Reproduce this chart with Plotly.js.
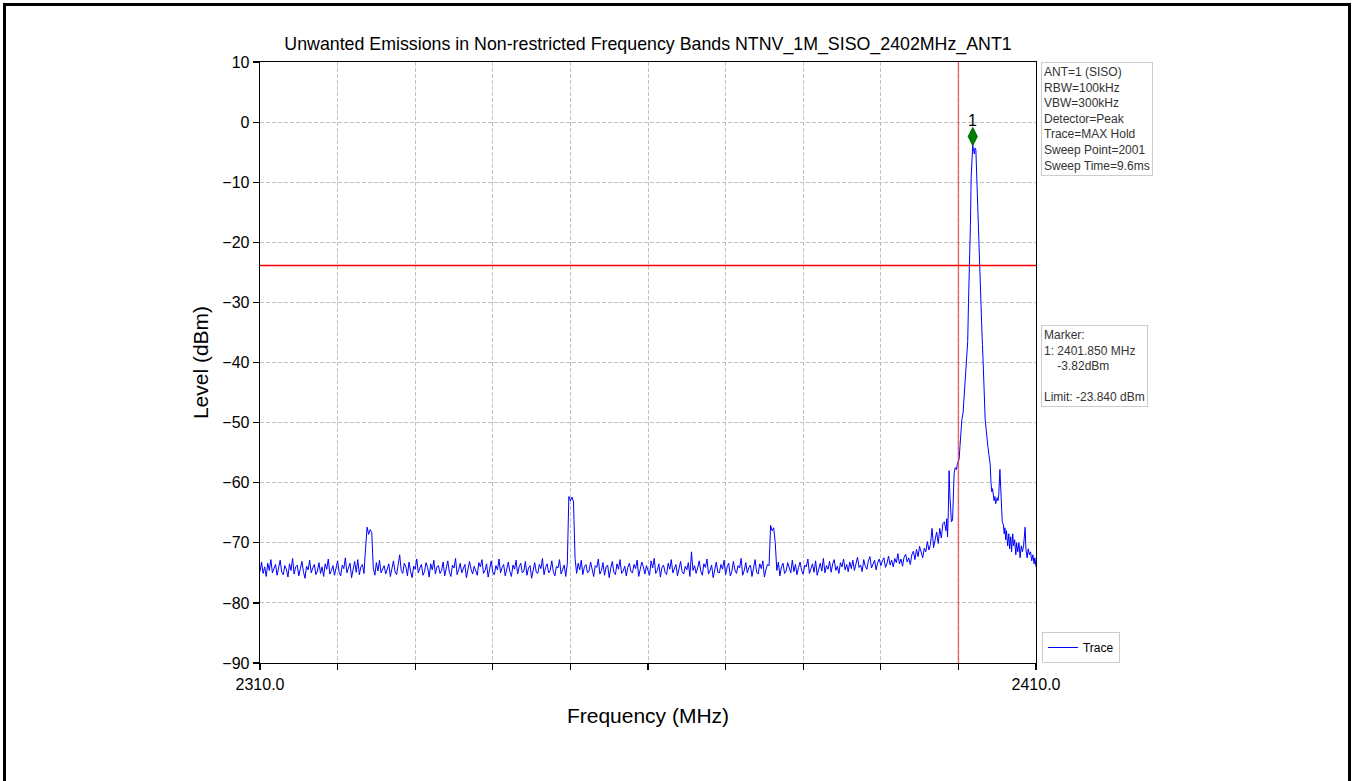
<!DOCTYPE html>
<html>
<head>
<meta charset="utf-8">
<script src="https://cdn.plot.ly/plotly-3.0.1.min.js"></script>
<style>
  html, body { margin: 0; padding: 0; background: #ffffff; }
  #chart { width: 1354px; height: 781px; }
  #frame { position: absolute; left: 3px; top: 3px; width: 1342px; height: 820px; border: 3px solid #000; pointer-events: none; }
</style>
</head>
<body>
<div id="chart"></div>
<div id="frame"></div>
<script>
// ---- Data ----
const chartTitle = 'Unwanted Emissions in Non-restricted Frequency Bands NTNV_1M_SISO_2402MHz_ANT1';
const xAxisTitle = 'Frequency (MHz)';
const yAxisTitle = 'Level (dBm)';

// Sweep section 1: evenly spaced points from sweepStart with sweepStep (MHz)
const sweepStart = 2310.0;
const sweepStep = 0.2;
const noiseLevels = [
  -74.8,-73.2,-75.1,-74.0,-75.6,-73.4,-74.6,-72.8,-75.0,-74.2,-73.6,-75.4,-74.1,-72.9,-74.9,-75.3,-73.8,-74.4,-75.7,-73.5,
  -74.6,-72.6,-75.2,-74.0,-73.7,-75.5,-74.3,-73.1,-74.8,-75.9,-73.9,-74.5,-72.9,-75.0,-74.2,-73.6,-75.3,-74.7,-73.3,-75.1,
  -74.0,-75.6,-73.5,-74.4,-72.7,-75.2,-74.6,-73.8,-75.4,-74.1,-73.0,-74.9,-75.5,-73.7,-74.3,-72.5,-75.0,-74.2,-73.4,-75.8,
  -74.5,-73.1,-74.9,-72.8,-75.3,-74.0,-73.6,-75.1,-71.0,-67.4,-68.6,-67.8,-68.3,-74.2,-75.4,-73.3,-74.7,-72.9,-75.0,-74.4,
  -73.8,-75.2,-74.3,-73.5,-75.6,-74.1,-73.0,-74.8,-75.3,-73.7,-72.0,-74.6,-75.1,-73.4,-74.0,-75.5,-73.2,-74.7,-75.8,-73.9,
  -74.4,-72.7,-75.0,-74.2,-73.6,-75.4,-74.8,-73.3,-74.1,-75.7,-73.5,-74.5,-72.9,-75.2,-74.0,-73.8,-75.1,-74.6,-73.2,-75.5,
  -74.3,-73.0,-74.9,-75.6,-73.7,-74.2,-72.6,-75.3,-74.5,-73.4,-75.0,-74.1,-73.6,-75.8,-74.7,-73.1,-74.4,-75.2,-73.9,-74.8,
  -75.4,-73.3,-74.0,-72.8,-75.1,-74.6,-73.5,-75.7,-74.2,-73.0,-74.9,-75.3,-73.8,-74.5,-72.7,-75.0,-74.1,-73.6,-75.5,-74.3,
  -73.2,-74.8,-75.6,-73.7,-74.4,-72.9,-75.2,-74.0,-73.4,-75.0,-74.7,-73.1,-75.4,-74.2,-73.8,-75.9,-74.5,-73.3,-74.9,-75.1,
  -73.6,-74.3,-72.6,-75.3,-74.1,-73.5,-75.0,-74.6,-73.0,-74.8,-75.5,-73.9,-74.2,-72.8,-75.2,-74.4,-73.7,-75.6,-73.5,-62.3,
  -63.0,-62.4,-63.2,-72.6,-75.1,-73.4,-74.5,-72.9,-75.3,-74.0,-73.6,-75.0,-74.7,-73.2,-74.3,-75.6,-73.8,-74.1,-72.7,-75.2,
  -74.6,-73.3,-75.4,-74.0,-73.7,-75.8,-74.2,-73.1,-74.9,-75.3,-73.5,-74.4,-72.8,-75.1,-74.7,-73.9,-75.5,-74.1,-73.4,-74.8,
  -75.0,-73.6,-74.3,-72.9,-75.6,-74.5,-73.2,-74.0,-75.2,-73.8,-74.7,-75.4,-73.0,-74.2,-72.6,-75.1,-74.6,-73.5,-75.7,-74.1,
  -73.7,-74.9,-75.3,-73.4,-74.4,-72.8,-75.0,-74.3,-73.6,-75.5,-74.0,-73.1,-74.8,-75.2,-73.9,-74.5,-73.3,-75.6,-71.5,-74.6,
  -73.8,-75.1,-74.2,-73.0,-74.7,-75.4,-73.5,-74.1,-72.7,-75.2,-74.6,-73.7,-75.8,-74.3,-73.2,-74.9,-75.0,-73.6,-74.4,-72.9,
  -75.3,-74.0,-73.4,-75.5,-74.8,-73.1,-74.5,-75.1,-73.8,-74.2,-72.6,-75.4,-74.6,-73.3,-75.0,-74.1,-73.7,-75.6,-74.4,-72.8,
  -74.9,-75.2,-73.5,-74.3,-73.0,-75.7,-74.5,-73.6,-73.8,-67.1,-68.0,-67.5,-70.0,-74.6,-73.2,-75.5,-74.0,-73.4,-75.1,-74.7,
  -73.3,-74.4,-75.0,-72.9,-74.8,-73.6,-75.3,-74.1,-73.2,-74.6,-75.2,-73.7,-74.0,-72.7,-75.1,-74.3,-73.5,-74.9,-73.0,-75.4,
  -74.2,-73.4,-74.7,-72.6,-75.0,-73.8,-74.4,-73.1,-74.9,-73.5,-72.8,-74.6,-73.9,-75.1,-73.3,-74.0,-72.7,-74.5,-73.6,-74.8,
  -73.2,-74.3,-72.9,-74.6,-73.5,-72.4,-74.1,-73.7,-74.8,-72.8,-73.9,-74.4,-73.0,-72.3,-74.2,-73.6,-72.9,-74.5,-73.3,-72.7,
  -73.8,-73.0,-72.5,-74.1,-73.4,-72.2,-73.7,-72.9,-74.0,-72.6,-73.3,-71.8,-73.5,-72.7,-73.9,-72.4,-71.9,-73.2,-72.5,-73.6,
  -72.0,-71.4,-72.8,-71.1,-72.3,-70.6,-71.8,-72.5,-70.9,-71.5,-69.8,-71.2,-70.3,-67.6,-70.8,-69.5,-68.2,-70.1,-67.6,-69.2,
  -66.8
];

// Sweep section 2: carrier region (MHz, dBm)
const peakFreqs = [
  2398.2,2398.4,2398.5,2398.6,2398.7,2398.8,2398.9,2399.0,2399.1,2399.25,2399.35,2399.45,2399.6,2399.75,2399.85,
  2400.0,2400.1,2400.2,2400.35,2400.45,2400.6,2400.8,2400.95,2401.1,2401.2,2401.3,2401.45,2401.55,2401.65,2401.75,
  2401.85,2401.95,2402.0,2402.05,2402.15,2402.25,2402.35,2402.5,2402.65,2402.78,2402.9,2402.98,2403.05,2403.1,2403.2,
  2403.3,2403.45,2403.55,2403.7,2403.8,2403.95,2404.1,2404.2,2404.3,2404.4,2404.5,2404.6,2404.7,2404.8,2404.9,
  2405.0,2405.1,2405.2,2405.35,2405.5,2405.65,2405.8,2405.9,2406.0,2406.1,2406.2,2406.35,2406.5,2406.6,2406.75,
  2406.85,2407.0,2407.1,2407.25,2407.4,2407.5,2407.65,2407.8,2407.95,2408.1,2408.25,2408.4,2408.6,2408.7,2408.85,
  2409.0,2409.15,2409.3,2409.45,2409.6,2409.75,2409.85,2410.0
];
const peakLevels = [
  -66.5,-68.0,-66.0,-69.0,-65.0,-58.0,-62.0,-64.0,-66.5,-66.2,-62.0,-58.4,-57.5,-57.8,-57.0,
  -56.5,-56.0,-54.0,-51.0,-49.5,-48.4,-44.0,-40.0,-38.5,-36.5,-30.0,-24.0,-17.0,-9.0,-5.0,
  -3.82,-4.8,-4.9,-5.3,-4.3,-4.6,-9.0,-14.0,-20.0,-24.0,-31.0,-35.4,-35.6,-37.0,-39.5,
  -44.0,-49.5,-51.0,-53.0,-54.0,-55.5,-57.0,-60.0,-61.5,-61.0,-62.5,-63.0,-62.3,-63.5,-63.0,
  -62.5,-63.0,-62.0,-57.8,-63.0,-66.5,-67.0,-68.5,-67.5,-69.5,-68.0,-70.5,-68.5,-71.0,-69.0,
  -71.5,-68.5,-70.5,-69.5,-72.0,-70.0,-71.5,-70.0,-72.5,-70.5,-71.5,-70.5,-67.4,-71.0,-72.5,
  -71.0,-72.0,-71.5,-73.0,-72.0,-73.5,-72.5,-74.0
];

const limitLevel = -23.84;        // dBm
const boundaryFreq = 2400.0;      // MHz
const markerFreq = 2401.85;       // MHz
const markerLevel = -3.82;        // dBm
const markerSymbolLevel = -2.4;   // where the diamond sits on the picture
const xTickVals = [2310,2320,2330,2340,2350,2360,2370,2380,2390,2400,2410];
const xTickText = ['2310.0','','','','','','','','','','2410.0'];
const yTickVals = [10,0,-10,-20,-30,-40,-50,-60,-70,-80,-90];
const infoLines = ['ANT=1 (SISO)','RBW=100kHz','VBW=300kHz','Detector=Peak','Trace=MAX Hold','Sweep Point=2001','Sweep Time=9.6ms'];
const markerLines = ['Marker:','1: 2401.850 MHz','&nbsp;&nbsp;&nbsp;&nbsp;-3.82dBm','&nbsp;','Limit: -23.840 dBm'];

// ---- Build trace arrays ----
const freqs = noiseLevels.map((_, i) => +(sweepStart + i * sweepStep).toFixed(2)).concat(peakFreqs);
const levels = noiseLevels.concat(peakLevels);

const FONT = 'Liberation Sans, Arial, Helvetica, sans-serif';

const traces = [
  {
    x: freqs, y: levels, type: 'scatter', mode: 'lines', name: 'Trace',
    line: { color: '#0000ff', width: 1 }
  },
  {
    x: [markerFreq], y: [markerSymbolLevel], type: 'scatter', mode: 'markers',
    marker: { symbol: 'diamond-tall', size: 13, color: '#008000', line: { color: '#006400', width: 1 } },
    showlegend: false, hoverinfo: 'skip'
  }
];

const layout = {
  width: 1354, height: 781,
  paper_bgcolor: '#ffffff', plot_bgcolor: '#ffffff',
  margin: { l: 260, r: 318, t: 62, b: 118 },
  font: { family: FONT, color: '#000000', size: 16 },
  title: { text: chartTitle, font: { family: FONT, size: 17.8, color: '#000' }, x: 0.4786, xanchor: 'center', y: 0.944, yanchor: 'middle' },
  xaxis: {
    range: [2310, 2410], tickmode: 'array', tickvals: xTickVals, ticktext: xTickText,
    ticks: 'outside', ticklen: 6, tickwidth: 1.2, tickcolor: '#000',
    showline: true, linecolor: '#000', linewidth: 1.3, mirror: true,
    showgrid: true, gridcolor: '#b0b0b0', gridwidth: 0.8, griddash: '4px,2px',
    zeroline: false, tickfont: { size: 16, family: FONT },
    title: { text: xAxisTitle, font: { size: 21, family: FONT }, standoff: 16 }
  },
  yaxis: {
    range: [-90, 10], tickmode: 'array', tickvals: yTickVals,
    ticks: 'outside', ticklen: 6, tickwidth: 1.2, tickcolor: '#000',
    showline: true, linecolor: '#000', linewidth: 1.3, mirror: true,
    showgrid: true, gridcolor: '#b0b0b0', gridwidth: 0.8, griddash: '4px,2px',
    zeroline: false, tickfont: { size: 16, family: FONT },
    title: { text: yAxisTitle, font: { size: 21, family: FONT }, standoff: 8 }
  },
  shapes: [
    { type: 'line', xref: 'x', yref: 'paper', x0: boundaryFreq, x1: boundaryFreq, y0: 0, y1: 1,
      line: { color: 'rgba(230,60,60,0.7)', width: 1.5 } },
    { type: 'line', xref: 'paper', yref: 'y', x0: 0, x1: 1, y0: limitLevel, y1: limitLevel,
      line: { color: '#ff0000', width: 1.5 } }
  ],
  annotations: [
    { x: markerFreq, y: markerSymbolLevel, xref: 'x', yref: 'y', text: '1', showarrow: false,
      yshift: 16, font: { size: 16, family: FONT, color: '#000' } },
    { x: 1.0062, y: 1.0, xref: 'paper', yref: 'paper', xanchor: 'left', yanchor: 'top', align: 'left',
      text: infoLines.join('<br>'), showarrow: false, font: { size: 12, family: FONT, color: '#333' },
      bordercolor: '#cccccc', borderwidth: 1, borderpad: 2, bgcolor: '#ffffff' },
    { x: 1.0062, y: 0.5624, xref: 'paper', yref: 'paper', xanchor: 'left', yanchor: 'top', align: 'left',
      text: markerLines.join('<br>'), showarrow: false, font: { size: 12, family: FONT, color: '#333' },
      bordercolor: '#cccccc', borderwidth: 1, borderpad: 2, bgcolor: '#ffffff' }
  ],
  showlegend: true,
  legend: { x: 1.0077, y: 0.0, xanchor: 'left', yanchor: 'bottom', bgcolor: '#ffffff',
            bordercolor: '#cccccc', borderwidth: 1, font: { size: 12, family: FONT, color: '#000' } }
};

Plotly.newPlot('chart', traces, layout, { displayModeBar: false, staticPlot: true });
</script>
</body>
</html>
